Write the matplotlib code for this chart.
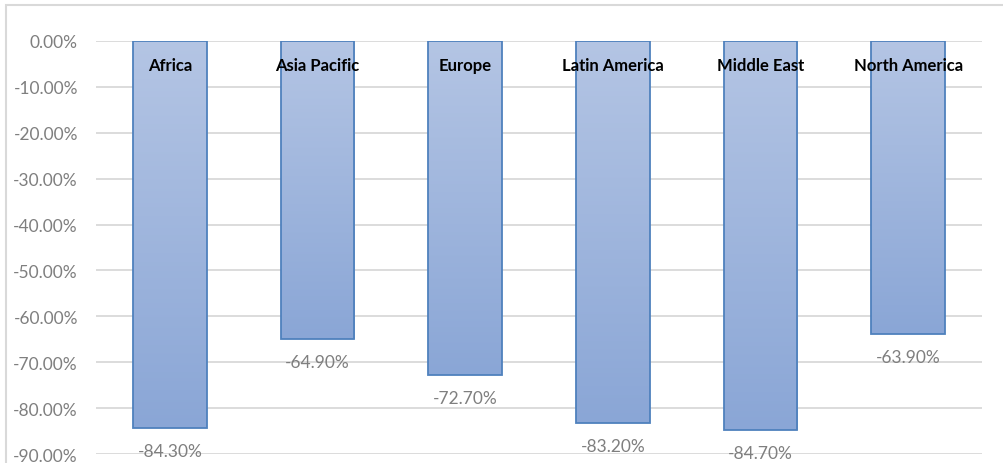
import numpy as np
import matplotlib.pyplot as plt
from matplotlib.patches import Rectangle
from matplotlib.colors import LinearSegmentedColormap

# data
regions = ["Africa", "Asia Pacific", "Europe", "Latin America", "Middle East", "North America"]
change = [-84.3, -64.9, -72.7, -83.2, -84.7, -63.9]
yticks = [0, -10, -20, -30, -40, -50, -60, -70, -80, -90]

plt.rcParams['font.family'] = ['Lato', 'DejaVu Sans']

fig = plt.figure(figsize=(10.04, 4.64), dpi=100)
ax = fig.add_axes([96 / 1004, 1 - 455 / 464, 886 / 1004, 413 / 464])

# light border round the chart area
fig.patches.append(Rectangle((6 / 1004, -0.05), 1.2, 1 - 6 / 464 + 0.05,
                             transform=fig.transFigure, fill=False,
                             edgecolor="#d9d9d9", linewidth=1.5))

x = np.arange(len(regions))
bars = ax.bar(x, change, width=0.5, color="none", edgecolor="#4f81bd", linewidth=1.3, zorder=3)

# vertical gradient fill for each bar
cmap = LinearSegmentedColormap.from_list("grad", ["#8aa6d6", "#b4c5e4"])
grad = np.linspace(0, 1, 256).reshape(-1, 1)
for b in bars:
    x0, w = b.get_x(), b.get_width()
    y0, h = b.get_y(), b.get_height()
    im = ax.imshow(grad, extent=[x0, x0 + w, y0 + h, y0], origin="lower", aspect="auto",
                   cmap=cmap, zorder=2)
    im.set_clip_path(b)

for xi, name, v in zip(x, regions, change):
    ax.text(xi, -5.3, name, ha="center", va="center", fontsize=12, fontweight="bold",
            color="black", zorder=4)
    ax.text(xi, v - 5.0, f"{v:.2f}%", ha="center", va="center", fontsize=12.5,
            color="#7f7f7f", zorder=4, clip_on=False)

ax.set_xlim(-0.5, len(regions) - 0.5)
ax.set_ylim(-90, 0)
ax.set_yticks(yticks)
ax.set_yticklabels([f"{t:.2f}%" for t in yticks])
ax.set_xticks([])
ax.tick_params(axis="y", length=0, pad=13, labelsize=12.5, labelcolor="#7f7f7f")
ax.yaxis.grid(True, color="#d9d9d9", linewidth=1.3, zorder=0)
ax.set_axisbelow(True)
for s in ax.spines.values():
    s.set_visible(False)

fig.savefig("out.png", dpi=100)
